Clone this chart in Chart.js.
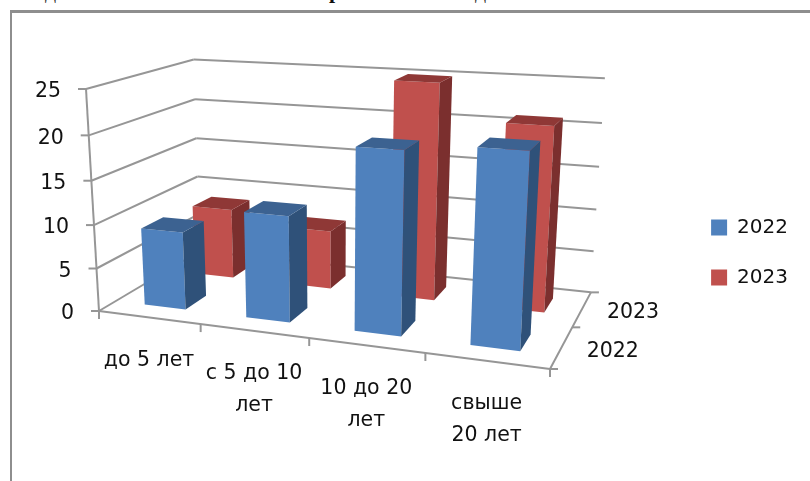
<!DOCTYPE html>
<html>
<head>
<meta charset="utf-8">
<title>3D bars</title>
<script src="https://cdn.jsdelivr.net/npm/chart.js@4"></script>
<style>
  html, body { margin: 0; padding: 0; background: #fff; overflow: hidden; }
  #wrap { position: relative; width: 810px; height: 481px; overflow: hidden; }
  #frame { position: absolute; left: 10px; top: 10px; right: -10px; bottom: -10px;
           border-left: 2px solid #8e8e8e; border-top: 3px solid #8e8e8e; }
  .cut { position: absolute; font-family: "Liberation Serif", serif; font-size: 22px; line-height: 22px; color: #333; }
  canvas { position: absolute; left: 0; top: 0; }
</style>
</head>
<body>
<div id="wrap">
  <div id="frame"></div>
  <span class="cut" style="left:45px;top:-20px">д</span>
  <span class="cut" style="left:329px;top:-20px;font-weight:bold;color:#111">р</span>
  <span class="cut" style="left:475px;top:-20px">д</span>
  <canvas id="chart" width="810" height="481"></canvas>
</div>
<script>
// Chart data
const categories = ["до 5 лет", ["с 5 до 10", "лет"], ["10 до 20", "лет"], ["свыше", "20 лет"]];
const series2022 = [9, 12, 20, 20.8];
const series2023 = [8.5, 7, 25, 21];

const FONT = '"DejaVu Sans", sans-serif';
const LINE_COLOR = "#969696";

// Corners of the floor and left wall on screen, with perspective weights
const O = [99, 311];
const X = [550, 369];
const Y = [200, 251];
const Z = [86, 89];
const WX = 0.873;
const WY = 1.167;
const WZ = 0.947;

// Where each series sits along the depth axis (0 = front, 1 = back)
const DEPTH_BANDS = [[0.1475, 0.3525], [0.6475, 0.8525]];

// f along categories, g along depth, h up the value axis, all 0..1
function project(f, g, h) {
  const w = 1 + f * (WX - 1) + g * (WY - 1) + h * (WZ - 1);
  const px = O[0] + f * (WX * X[0] - O[0]) + g * (WY * Y[0] - O[0]) + h * (WZ * Z[0] - O[0]);
  const py = O[1] + f * (WX * X[1] - O[1]) + g * (WY * Y[1] - O[1]) + h * (WZ * Z[1] - O[1]);
  return [px / w, py / w];
}

function strokeLine(ctx, a, b) {
  ctx.beginPath();
  ctx.moveTo(a[0], a[1]);
  ctx.lineTo(b[0], b[1]);
  ctx.stroke();
}

function fillFace(ctx, points, color) {
  ctx.fillStyle = color;
  ctx.beginPath();
  points.forEach((p, i) => (i === 0 ? ctx.moveTo(p[0], p[1]) : ctx.lineTo(p[0], p[1])));
  ctx.closePath();
  ctx.fill();
}

// Walls, axes and tick labels, drawn from the hidden scales
const walls = {
  id: "walls",
  beforeDatasetsDraw(chart) {
    const { ctx, chartArea, scales } = chart;
    ctx.save();
    ctx.strokeStyle = LINE_COLOR;
    ctx.lineWidth = 2;
    ctx.fillStyle = "#111";
    ctx.font = "20.5px " + FONT;

    // value axis
    ctx.textAlign = "right";
    ctx.textBaseline = "middle";
    scales.y.ticks.forEach((tick) => {
      const h = (chartArea.bottom - scales.y.getPixelForValue(tick.value)) / chartArea.height;
      const front = project(0, 0, h);
      strokeLine(ctx, front, project(0, 1, h));
      strokeLine(ctx, project(0, 1, h), project(1, 1, h));
      strokeLine(ctx, front, [front[0] - 8, front[1]]);
      ctx.fillText(String(tick.value), front[0] - 25, front[1] + 3);
    });
    strokeLine(ctx, project(0, 0, 0), project(0, 0, 1));

    // category axis
    strokeLine(ctx, project(0, 0, 0), project(1, 0, 0));
    for (let i = 0; i <= categories.length; i++) {
      const p = project(i / categories.length, 0, 0);
      strokeLine(ctx, p, [p[0], p[1] + 8]);
    }
    ctx.textAlign = "center";
    categories.forEach((label, i) => {
      const f = (scales.x.getPixelForValue(i) - chartArea.left) / chartArea.width;
      const p = project(f, 0, 0);
      [].concat(label).forEach((line, j) => {
        ctx.fillText(line, p[0], p[1] + 43 + j * 32);
      });
    });

    // depth axis
    strokeLine(ctx, project(1, 0, 0), project(1, 1, 0));
    ctx.textAlign = "left";
    for (let k = 0; k <= chart.data.datasets.length; k++) {
      const p = project(1, k / chart.data.datasets.length, 0);
      strokeLine(ctx, p, [p[0] + 8, p[1]]);
    }
    chart.data.datasets.forEach((ds, k) => {
      const p = project(1, (k + 0.5) / chart.data.datasets.length, 0);
      ctx.fillText(ds.label, p[0] + 25, p[1] + 4);
    });
    ctx.restore();
  },
  // Bars use the element geometry from the bar controller, pushed through the projection
  beforeDatasetDraw(chart, args) {
    const { ctx, chartArea } = chart;
    const ds = chart.data.datasets[args.index];
    const band = DEPTH_BANDS[args.index];
    ctx.save();
    args.meta.data.forEach((bar) => {
      const f0 = (bar.x - bar.width / 2 - chartArea.left) / chartArea.width;
      const f1 = (bar.x + bar.width / 2 - chartArea.left) / chartArea.width;
      const h = (bar.base - bar.y) / chartArea.height;
      const [g0, g1] = band;
      fillFace(ctx, [project(f0, g0, 0), project(f1, g0, 0), project(f1, g0, h), project(f0, g0, h)], ds.backgroundColor);
      fillFace(ctx, [project(f1, g0, 0), project(f1, g1, 0), project(f1, g1, h), project(f1, g0, h)], ds.sideColor);
      fillFace(ctx, [project(f0, g0, h), project(f1, g0, h), project(f1, g1, h), project(f0, g1, h)], ds.topColor);
    });
    ctx.restore();
    return false;
  },
};

new Chart(document.getElementById("chart"), {
  type: "bar",
  data: {
    labels: categories,
    datasets: [
      // the back row has to paint first, so 2022 goes on top through order
      { label: "2022", data: series2022, backgroundColor: "#4f81bd", sideColor: "#2f5179", topColor: "#3c6291", order: 1 },
      { label: "2023", data: series2023, backgroundColor: "#c0504d", sideColor: "#7b2f2e", topColor: "#8f3836", order: 2 },
    ],
  },
  options: {
    responsive: false,
    animation: false,
    layout: { padding: { top: 24, right: 12 } },
    datasets: { bar: { grouped: false, barPercentage: 0.41, categoryPercentage: 1 } },
    plugins: {
      title: { display: false },
      tooltip: { enabled: false },
      legend: {
        position: "right",
        labels: {
          font: { family: FONT, size: 20 },
          color: "#111",
          boxWidth: 16,
          boxHeight: 16,
          padding: 30,
        },
      },
    },
    scales: {
      x: { display: false },
      y: { display: false, min: 0, max: 25, ticks: { stepSize: 5 } },
    },
  },
  plugins: [walls],
});
</script>
</body>
</html>
